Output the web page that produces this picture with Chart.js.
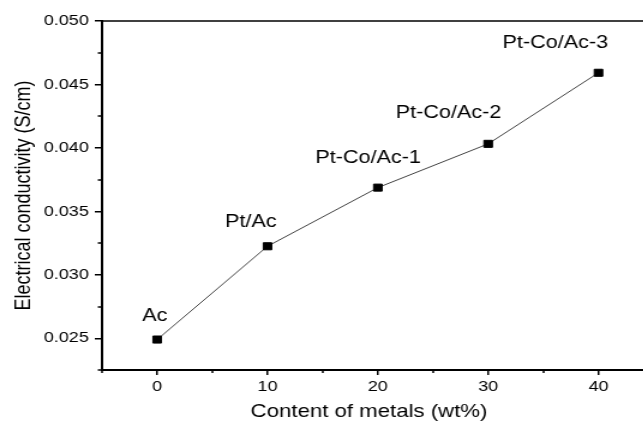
<!DOCTYPE html>
<html>
<head>
<meta charset="utf-8">
<script src="https://cdn.jsdelivr.net/npm/chart.js@4"></script>
<style>
  html, body { margin: 0; padding: 0; background: #fff; overflow: hidden; }
  #wrap { width: 536px; height: 423px; transform: scaleX(1.2); transform-origin: 0 0; }
</style>
</head>
<body>
<div id="wrap"><canvas id="chart" width="536" height="423"></canvas></div>
<script>
// data
var metals = [0, 10, 20, 30, 40];
var conductivity = [0.0249, 0.03225, 0.03687, 0.04032, 0.04592];
var sampleNames = ["Ac", "Pt/Ac", "Pt-Co/Ac-1", "Pt-Co/Ac-2", "Pt-Co/Ac-3"];
var xTickValues = [-5, 0, 5, 10, 15, 20, 25, 30, 35, 40];
var xTickLabels = ["", "0", "", "10", "", "20", "", "30", "", "40"];
var yTickValues = [0.0225, 0.025, 0.0275, 0.03, 0.0325, 0.035, 0.0375, 0.04, 0.0425, 0.045, 0.0475, 0.05];
var yTickLabels = ["", "0.025", "", "0.030", "", "0.035", "", "0.040", "", "0.045", "", "0.050"];

// where each sample name sits relative to its point (px)
var labelOffsets = [[-2, -24], [-14, -24], [-8, -30], [-33, -31], [-36, -30]];

var FONT = "'Liberation Sans', Arial, sans-serif";

function isMajor(list, labels, v) {
    var i = list.indexOf(v);
    return i >= 0 && labels[i] !== "";
}

// minor ticks, frame lines running to the edge, and the sample names
var extras = {
    id: 'extras',
    afterDraw: function(chart) {
        var ctx = chart.ctx;
        var area = chart.chartArea;
        var xs = chart.scales.x, ys = chart.scales.y;
        ctx.save();
        ctx.strokeStyle = '#000';
        ctx.lineWidth = 1.5;
        ctx.beginPath();
        ctx.moveTo(area.left, area.top);
        ctx.lineTo(chart.width, area.top);
        ctx.stroke();
        ctx.lineWidth = 2;
        ctx.beginPath();
        ctx.moveTo(area.right - 1, area.bottom);
        ctx.lineTo(chart.width, area.bottom);
        ctx.stroke();

        ctx.lineWidth = 1.5;
        ctx.beginPath();
        for (var i = 0; i < xTickValues.length; i++) {
            if (xTickLabels[i] !== "") continue;
            var px = Math.round(xs.getPixelForValue(xTickValues[i]));
            ctx.moveTo(px, area.bottom);
            ctx.lineTo(px, area.bottom + 3);
        }
        for (var j = 0; j < yTickValues.length; j++) {
            if (yTickLabels[j] !== "") continue;
            var py = Math.round(ys.getPixelForValue(yTickValues[j]));
            ctx.moveTo(area.left, py);
            ctx.lineTo(area.left - 3.5, py);
        }
        ctx.stroke();

        var meta = chart.getDatasetMeta(0);
        ctx.fillStyle = '#000';
        ctx.font = '18px ' + FONT;
        ctx.textAlign = 'center';
        ctx.textBaseline = 'middle';
        meta.data.forEach(function(pt, k) {
            ctx.fillText(sampleNames[k], pt.x + labelOffsets[k][0], pt.y + labelOffsets[k][1]);
        });
        ctx.restore();
    }
};

var ctx = document.getElementById('chart').getContext('2d');
var chart = new Chart(ctx, {
    type: 'line',
    data: {
        datasets: [{
            data: metals.map(function(m, i) { return {x: m, y: conductivity[i]}; }),
            borderColor: '#444',
            borderWidth: 1,
            pointStyle: 'rect',
            pointRadius: 5,
            pointBorderWidth: 1,
            pointBackgroundColor: '#000',
            pointBorderColor: '#000',
            tension: 0
        }]
    },
    options: {
        responsive: false,
        animation: false,
        layout: { padding: { top: 21, right: 0, left: 0, bottom: 0 } },
        plugins: {
            legend: { display: false },
            tooltip: { enabled: false }
        },
        scales: {
            x: {
                type: 'linear',
                min: -5,
                max: 43.4,
                afterBuildTicks: function(scale) {
                    scale.ticks = xTickValues.map(function(v) { return {value: v}; });
                },
                afterFit: function(scale) { scale.height = 53; },
                ticks: {
                    autoSkip: false,
                    maxRotation: 0,
                    padding: 3,
                    color: '#000',
                    font: { family: FONT, size: 15 },
                    callback: function(v) { return xTickLabels[xTickValues.indexOf(v)] || ''; }
                },
                grid: {
                    drawOnChartArea: false,
                    drawTicks: true,
                    tickLength: 5,
                    lineWidth: 1.5,
                    color: function(c) { return isMajor(xTickValues, xTickLabels, c.tick && c.tick.value) ? '#000' : 'rgba(0,0,0,0)'; }
                },
                border: { display: true, color: '#000', width: 2 },
                title: {
                    display: true,
                    text: 'Content of metals (wt%)',
                    color: '#000',
                    font: { family: FONT, size: 18.5 },
                    padding: { top: 0, bottom: 0 }
                }
            },
            y: {
                min: 0.0225,
                max: 0.05,
                afterBuildTicks: function(scale) {
                    scale.ticks = yTickValues.map(function(v) { return {value: v}; });
                },
                afterFit: function(scale) { scale.width = 85; },
                ticks: {
                    autoSkip: false,
                    padding: 5,
                    color: '#000',
                    font: { family: FONT, size: 15 },
                    callback: function(v) { return yTickLabels[yTickValues.indexOf(v)] || ''; }
                },
                grid: {
                    drawOnChartArea: false,
                    drawTicks: true,
                    tickLength: 6,
                    lineWidth: 1.5,
                    color: function(c) { return isMajor(yTickValues, yTickLabels, c.tick && c.tick.value) ? '#000' : 'rgba(0,0,0,0)'; }
                },
                border: { display: true, color: '#000', width: 2 },
                title: {
                    display: true,
                    text: 'Electrical conductivity (S/cm)',
                    color: '#000',
                    font: { family: FONT, size: 18 },
                    padding: { top: 9, bottom: 0 }
                }
            }
        }
    },
    plugins: [extras]
});
</script>
</body>
</html>
